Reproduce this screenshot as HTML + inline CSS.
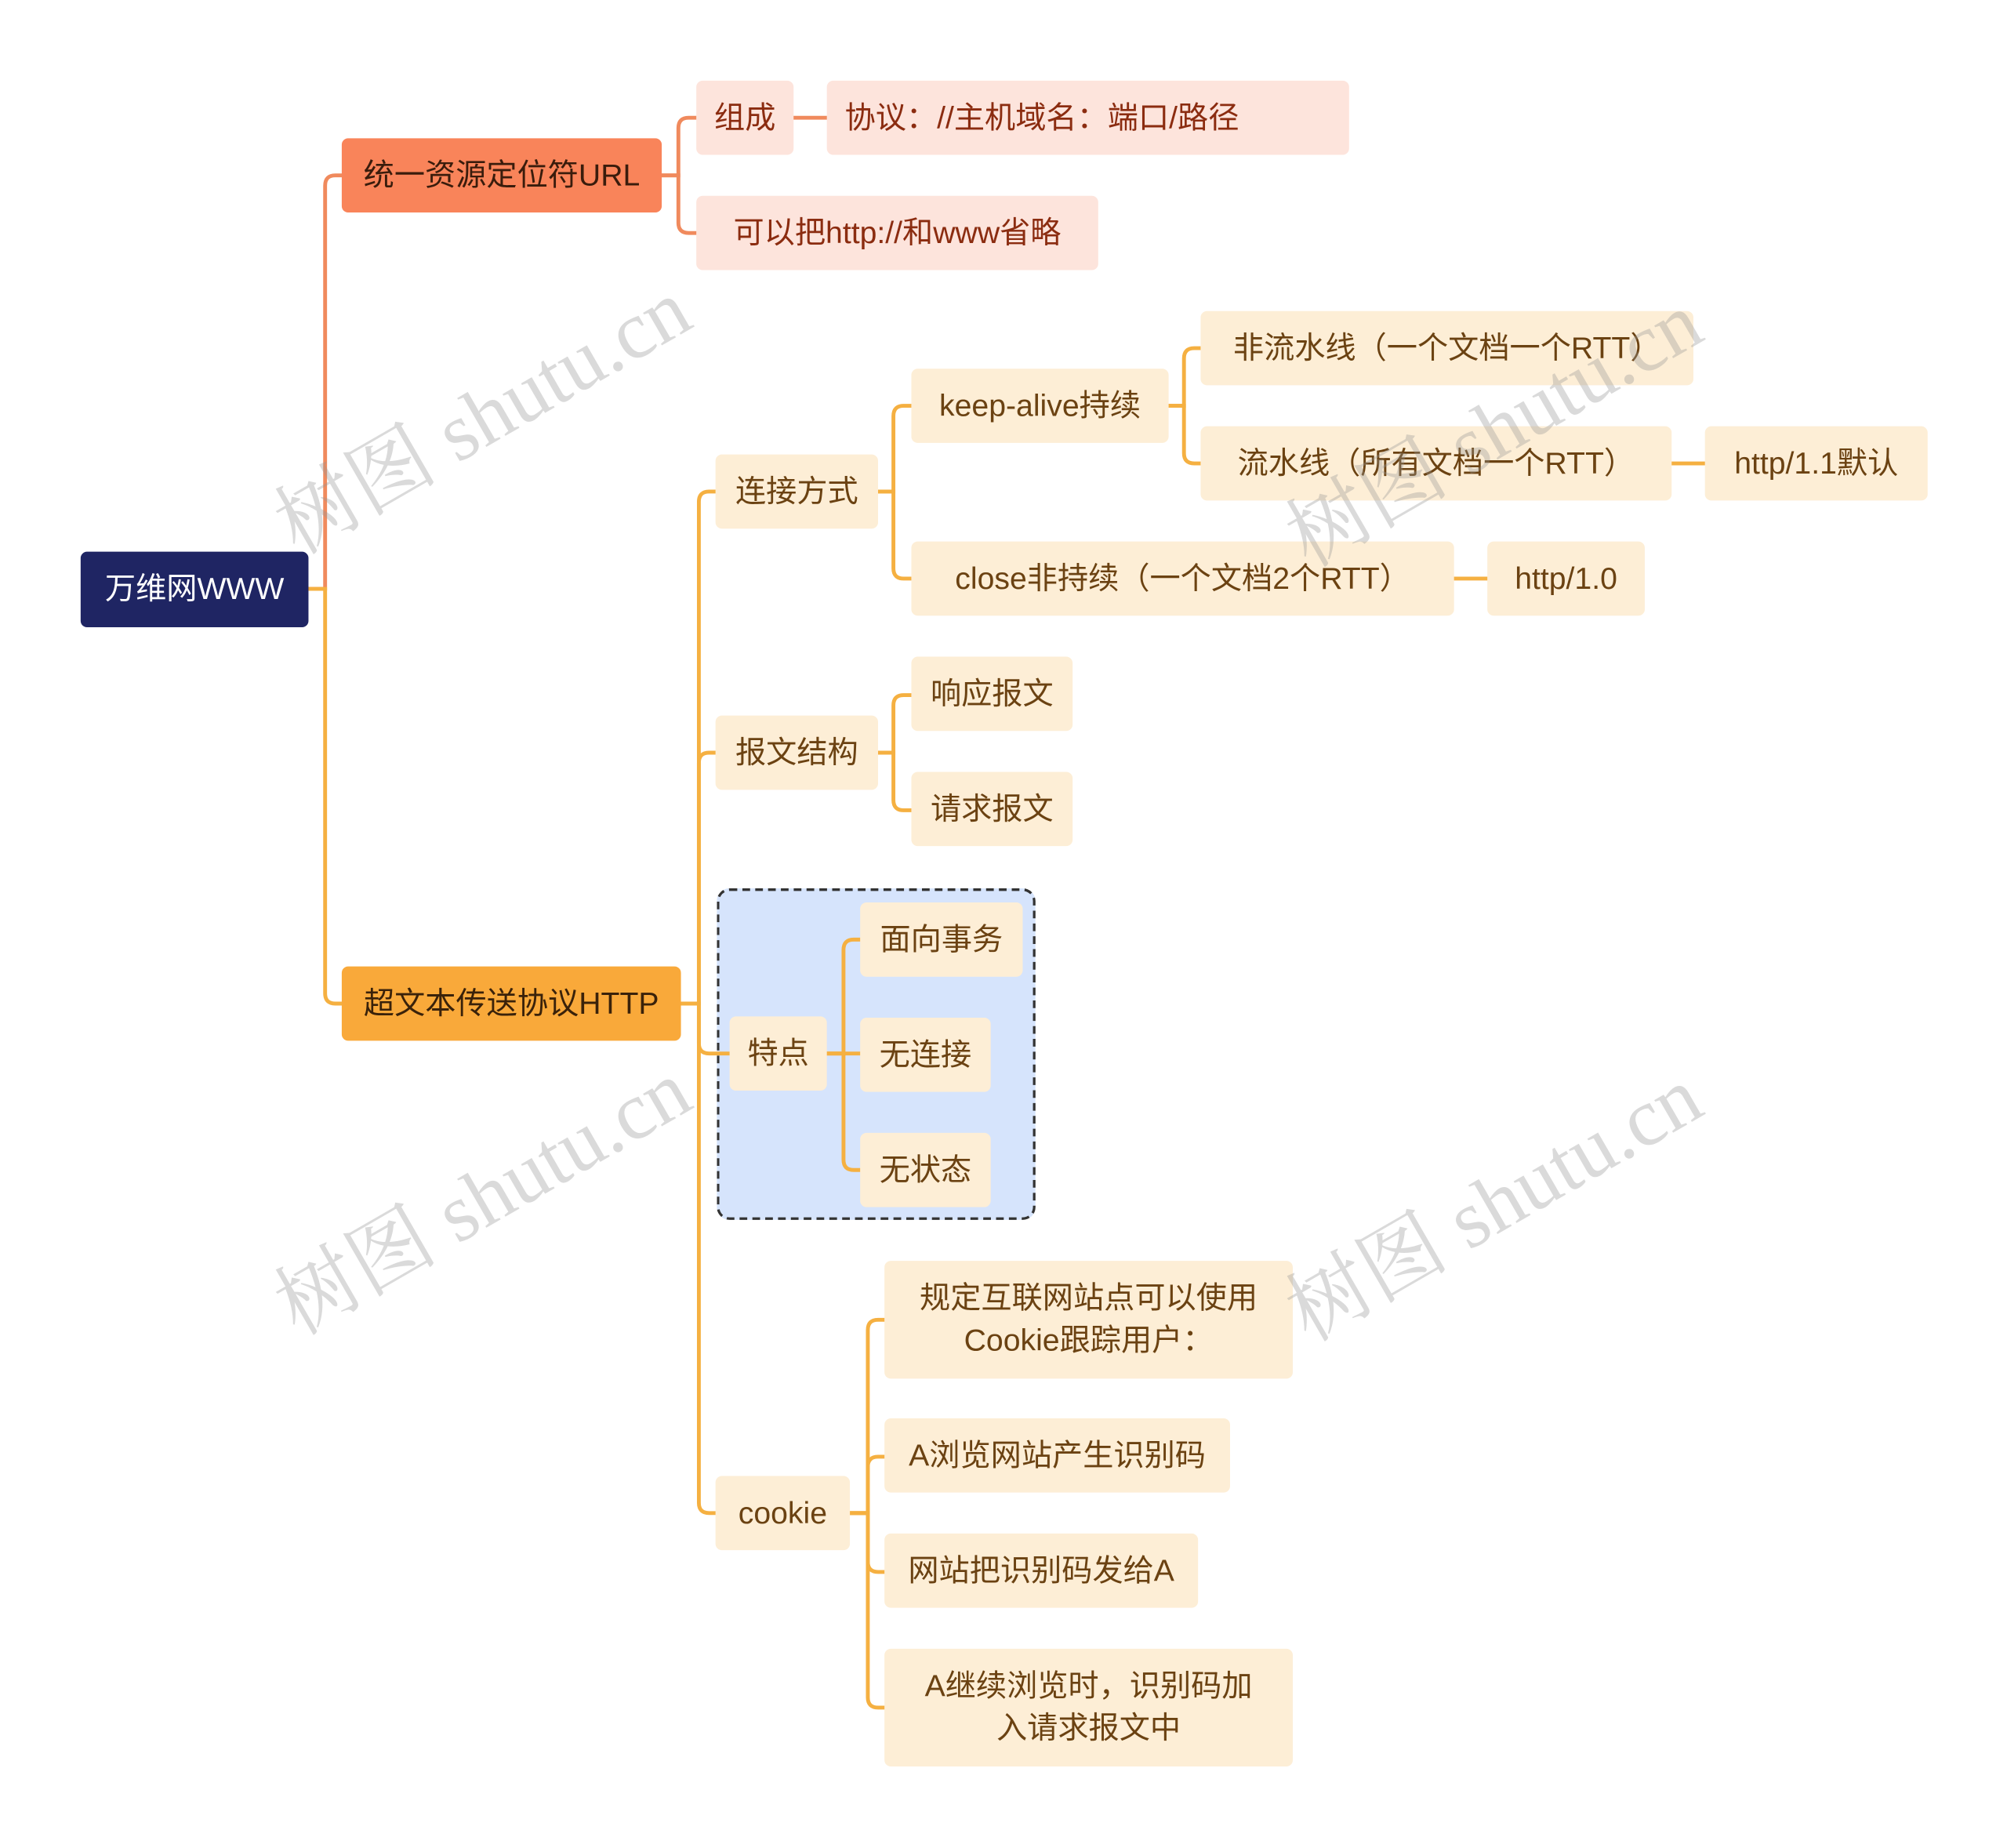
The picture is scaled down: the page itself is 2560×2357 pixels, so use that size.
<!DOCTYPE html>
<html><head><meta charset="utf-8"><style>
html,body{margin:0;padding:0;background:#fff;overflow:hidden;}
#wrap{position:relative;width:2560px;height:2357px;overflow:hidden;}
#s{position:absolute;left:0;top:0;width:1568px;height:1443px;overflow:hidden;transform:scale(1.632653);transform-origin:0 0;font-family:"Liberation Sans","Noto Sans CJK SC",sans-serif;}
.n{position:absolute;box-sizing:border-box;border-radius:5px;display:flex;align-items:center;justify-content:center;text-align:center;font-size:24px;line-height:33px;white-space:nowrap;}
.r{background:#1f2563;color:#fff;}
.u{background:#f9845a;color:#3a1c0c;}
.h{background:#f9a93a;color:#3a220a;}
.p{background:#fde4dc;color:#8b2c10;}
.y{background:#fdeed6;color:#6b4212;}
.wm{position:absolute;font-family:"Liberation Serif","Noto Serif CJK SC",serif;font-size:64px;color:rgba(150,150,150,0.35);transform:rotate(-30deg);white-space:nowrap;transform-origin:center;}
</style></head><body><div id="wrap"><div id="s">
<div style="position:absolute;left:560px;top:694px;width:249px;height:259px;box-sizing:border-box;background:#d6e4fc;border:2px dashed #333;border-radius:10px;"></div>
<svg width="1568" height="1443" style="position:absolute;left:0;top:0" fill="none" stroke-width="3" stroke-linecap="round">
<g stroke="#f08a5d">
<path d="M241 460 H254 V145 Q254 137 262 137 H267"/>
<path d="M517 137 H530 V100 Q530 92 538 92 H544"/>
<path d="M517 137 H530 V174 Q530 182 538 182 H544"/>
<path d="M620 92 H646"/>
</g>
<g stroke="#f5b041">
<path d="M241 460 H254 V776 Q254 784 262 784 H267"/>
<path d="M532 784 H546 V392 Q546 384 554 384 H559"/>
<path d="M532 784 H546 V596 Q546 588 554 588 H559"/>
<path d="M532 784 H546 V815 Q546 823 554 823 H570"/>
<path d="M532 784 H546 V1174 Q546 1182 554 1182 H559"/>
<path d="M686 384 H698 V325 Q698 317 706 317 H712"/>
<path d="M686 384 H698 V444 Q698 452 706 452 H712"/>
<path d="M913 317 H925 V280 Q925 272 933 272 H938"/>
<path d="M913 317 H925 V354 Q925 362 933 362 H938"/>
<path d="M1306 362 H1332"/>
<path d="M1136 452 H1162"/>
<path d="M686 588 H698 V551 Q698 543 706 543 H712"/>
<path d="M686 588 H698 V625 Q698 633 706 633 H712"/>
<path d="M646 823 H659 V742 Q659 734 667 734 H672"/>
<path d="M646 823 H672"/>
<path d="M646 823 H659 V906 Q659 914 667 914 H672"/>
<path d="M664 1182 H678 V1039 Q678 1031 686 1031 H691"/>
<path d="M664 1182 H678 V1146 Q678 1138 686 1138 H691"/>
<path d="M664 1182 H678 V1220 Q678 1228 686 1228 H691"/>
<path d="M664 1182 H678 V1326 Q678 1334 686 1334 H691"/>
</g>
</svg>
<div class="n r" style="left:63px;top:431px;width:178px;height:59px;">万维网WWW</div>
<div class="n u" style="left:267px;top:108px;width:250px;height:58px;">统一资源定位符URL</div>
<div class="n h" style="left:267px;top:755px;width:265px;height:58px;">超文本传送协议HTTP</div>
<div class="n p" style="left:544px;top:63px;width:76px;height:58px;">组成</div>
<div class="n p" style="left:646px;top:63px;width:408px;height:58px;justify-content:flex-start;padding-left:14px;">协议：//主机域名：端口/路径</div>
<div class="n p" style="left:544px;top:153px;width:314px;height:58px;">可以把http://和www省略</div>
<div class="n y" style="left:559px;top:355px;width:127px;height:58px;">连接方式</div>
<div class="n y" style="left:712px;top:288px;width:201px;height:58px;">keep-alive持续</div>
<div class="n y" style="left:938px;top:243px;width:385px;height:58px;">非流水线（一个文档一个RTT）</div>
<div class="n y" style="left:938px;top:333px;width:368px;height:58px;">流水线（所有文档一个RTT）</div>
<div class="n y" style="left:1332px;top:333px;width:174px;height:58px;">http/1.1默认</div>
<div class="n y" style="left:712px;top:423px;width:424px;height:58px;">close非持续（一个文档2个RTT）</div>
<div class="n y" style="left:1162px;top:423px;width:123px;height:58px;">http/1.0</div>
<div class="n y" style="left:559px;top:559px;width:127px;height:58px;">报文结构</div>
<div class="n y" style="left:712px;top:513px;width:126px;height:58px;">响应报文</div>
<div class="n y" style="left:712px;top:603px;width:126px;height:58px;">请求报文</div>
<div class="n y" style="left:570px;top:794px;width:76px;height:58px;">特点</div>
<div class="n y" style="left:672px;top:705px;width:127px;height:58px;">面向事务</div>
<div class="n y" style="left:672px;top:795px;width:102px;height:58px;">无连接</div>
<div class="n y" style="left:672px;top:885px;width:102px;height:58px;">无状态</div>
<div class="n y" style="left:559px;top:1153px;width:105px;height:58px;">cookie</div>
<div class="n y" style="left:691px;top:985px;width:319px;height:92px;white-space:normal;">规定互联网站点可以使用<br>Cookie跟踪用户：</div>
<div class="n y" style="left:691px;top:1108px;width:270px;height:58px;">A浏览网站产生识别码</div>
<div class="n y" style="left:691px;top:1198px;width:245px;height:58px;">网站把识别码发给A</div>
<div class="n y" style="left:691px;top:1288px;width:319px;height:92px;white-space:normal;">A继续浏览时，识别码加<br>入请求报文中</div>
<div class="wm" style="left:195px;top:275px;">树图 shutu.cn</div>
<div class="wm" style="left:985px;top:285px;">树图 shutu.cn</div>
<div class="wm" style="left:195px;top:885px;">树图 shutu.cn</div>
<div class="wm" style="left:985px;top:890px;">树图 shutu.cn</div>
</div></div></body></html>
